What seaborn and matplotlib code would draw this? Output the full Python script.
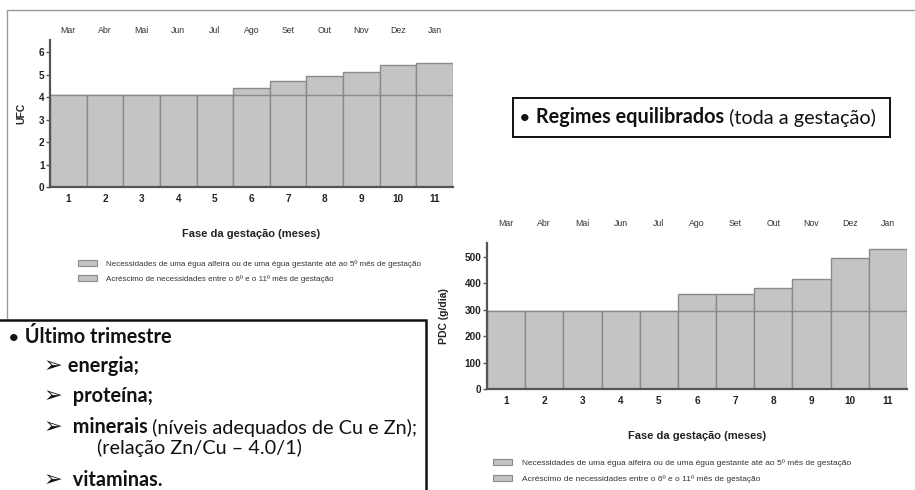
import matplotlib
matplotlib.use("Agg")
import matplotlib.pyplot as plt
from matplotlib.patches import Patch, Rectangle
import seaborn as sns

# %% data
months = ["Mar", "Abr", "Mai", "Jun", "Jul", "Ago", "Set", "Out", "Nov", "Dez", "Jan"]
phase = ["1", "2", "3", "4", "5", "6", "7", "8", "9", "10", "11"]
ufc_base = [4.1, 4.1, 4.1, 4.1, 4.1, 4.1, 4.1, 4.1, 4.1, 4.1, 4.1]
ufc_total = [4.1, 4.1, 4.1, 4.1, 4.1, 4.4, 4.72, 4.93, 5.12, 5.42, 5.52]
pdc_base = [295, 295, 295, 295, 295, 295, 295, 295, 295, 295, 295]
pdc_total = [295, 295, 295, 295, 295, 359, 361, 381, 418, 497, 530]
legend_labels = [
    "Necessidades de uma égua alfeira ou de uma égua gestante até ao 5º mês de gestação",
    "Acréscimo de necessidades entre o 6º e o 11º mês de gestação",
]

sns.set_style("ticks")
plt.rcParams["font.family"] = ["Liberation Sans", "DejaVu Sans"]
TXT = ["Lato", "DejaVu Sans"]

BAR = "#c4c4c4"
EDGE = "#8a8a8a"
AXC = "#555555"

W, H = 915, 490
fig = plt.figure(figsize=(W / 100, H / 100), dpi=100)
fig.patch.set_facecolor("white")


def rect(l, t, r, b):
    return [l / W, 1 - b / H, (r - l) / W, (b - t) / H]


def bar_chart(box, total, base, ylim, yticks, ylabel, ylpad, mpad, leg_xy, leg_fs):
    ax = fig.add_axes(rect(*box))
    sns.barplot(x=phase, y=total, order=phase, color=BAR, edgecolor=EDGE,
                linewidth=1, width=1, saturation=1, ax=ax)
    sns.barplot(x=phase, y=base, order=phase, color=BAR, edgecolor=EDGE,
                linewidth=1, width=1, saturation=1, ax=ax)
    ax.set_xlim(-0.5, 10.5)
    ax.set_ylim(*ylim)
    ax.set_yticks(yticks)
    for s in ["top", "right"]:
        ax.spines[s].set_visible(False)
    for s in ["left", "bottom"]:
        ax.spines[s].set_color(AXC)
        ax.spines[s].set_linewidth(1.6)
    ax.tick_params(axis="x", length=0, pad=5, labelsize=7.2, colors="#222")
    ax.tick_params(axis="y", length=3, width=1, pad=1, labelsize=7.2,
                   color=AXC, labelcolor="#222")
    for t in ax.get_xticklabels() + ax.get_yticklabels():
        t.set_fontweight("bold")
    ax.set_xlabel("Fase da gestação (meses)", fontsize=8, fontweight="bold",
                  labelpad=18, color="#222")
    ax.set_ylabel(ylabel, fontsize=7.5, fontweight="bold", labelpad=ylpad,
                  color="#222")
    sec = ax.secondary_xaxis("top")
    sec.set_xticks(range(11), labels=months)
    sec.tick_params(length=0, pad=mpad, labelsize=6.3, colors="#333")
    sec.spines["top"].set_visible(False)
    handles = [Patch(facecolor=BAR, edgecolor=EDGE, linewidth=0.8) for _ in legend_labels]
    fig.legend(handles, legend_labels, loc="upper left",
               bbox_to_anchor=(leg_xy[0] / W, 1 - leg_xy[1] / H),
               frameon=False, fontsize=leg_fs, handlelength=2.3, handleheight=0.75,
               handletextpad=1.2, labelspacing=0.95, borderpad=0,
               borderaxespad=0, labelcolor="#333")
    return ax


ax1 = bar_chart((50, 40, 453, 187), ufc_total, ufc_base, (0, 6.55), range(7),
                "UFC", 9, 3.5, (78, 260), 5.8)
ax2 = bar_chart((487, 243, 907, 389), pdc_total, pdc_base, (0, 553),
                range(0, 501, 100), "PDC (g/dia)", 11, 10.5, (493, 459), 6.0)

# overlay in pixel coords for the slide frame and the text boxes
ov = fig.add_axes([0, 0, 1, 1], zorder=10)
ov.set_xlim(0, W)
ov.set_ylim(H, 0)
ov.axis("off")
ov.patch.set_visible(False)

ov.plot([7, 7, W], [318, 10, 10], color="#9a9a9a", lw=1)
ov.add_patch(Rectangle((513, 98), 377, 39, facecolor="white",
                       edgecolor="#111", lw=1.4))
ov.add_patch(Rectangle((-5, 320), 431, 180, facecolor="white",
                       edgecolor="#111", lw=1.8))


def runs(x, y, parts, size=14.3):
    prev = None
    for s, w in parts:
        fs = size * 1.12 if s == "➢" else size
        if prev is None:
            prev = ov.text(x, y, s, fontsize=fs, fontweight=w, va="center",
                           ha="left", family=TXT, color="#111")
        else:
            prev = ov.annotate(s, xy=(1, 0), xycoords=prev, va="bottom",
                               ha="left", fontsize=fs, fontweight=w,
                               family=TXT, color="#111")


runs(519, 118, [("•", "normal"), (" Regimes equilibrados", "bold"),
                (" (toda a gestação)", "normal")])
runs(8, 338, [("•", "normal"), (" Último trimestre", "bold")])
runs(44, 366, [("➢", "normal"), (" energia;", "bold")])
runs(44, 396, [("➢", "normal"), ("  proteína;", "bold")])
runs(44, 427, [("➢", "normal"), ("  minerais", "bold"),
               (" (níveis adequados de Cu e Zn);", "normal")])
runs(97, 448, [("(relação Zn/Cu – 4.0/1)", "normal")])
runs(44, 480, [("➢", "normal"), ("  vitaminas.", "bold")])

fig.savefig("out.png", dpi=100)
